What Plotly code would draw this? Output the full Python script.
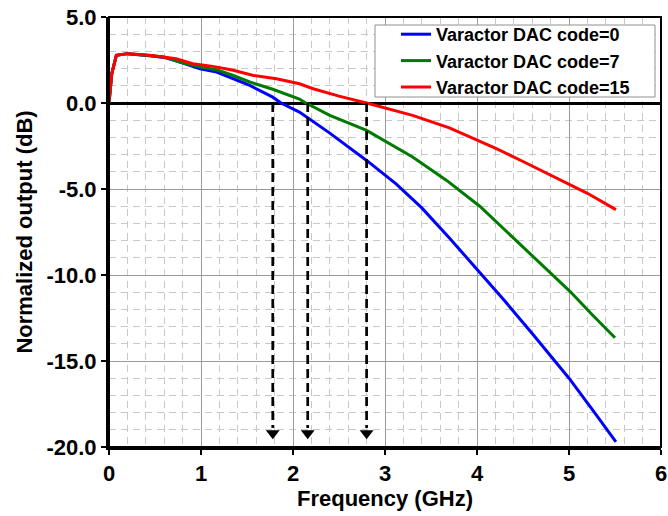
import plotly.graph_objects as go

# ---------------- data ----------------
freq_code0 = [0, 0.03, 0.08, 0.2, 0.44, 0.6, 0.77, 0.99, 1.17, 1.35, 1.53, 1.78, 1.87,
              2.07, 2.4, 2.8, 3.12, 3.4, 3.7, 4.03, 4.3, 4.6, 5.0, 5.25, 5.51]
gain_code0 = [0, 1.7, 2.77, 2.87, 2.75, 2.65, 2.38, 1.99, 1.8, 1.41, 1.02, 0.34, 0.0,
              -0.53, -1.75, -3.34, -4.7, -6.1, -7.85, -9.85, -11.5, -13.4, -16.0, -17.8, -19.7]

freq_code7 = [0, 0.03, 0.08, 0.2, 0.44, 0.6, 0.77, 0.99, 1.17, 1.35, 1.53, 1.78, 2.07,
              2.14, 2.4, 2.8, 3.3, 3.67, 4.03, 4.54, 5.01, 5.25, 5.5]
gain_code7 = [0, 1.7, 2.77, 2.87, 2.76, 2.68, 2.38, 2.09, 1.93, 1.6, 1.22, 0.8, 0.22,
              0.0, -0.72, -1.59, -3.14, -4.5, -6.0, -8.55, -10.95, -12.3, -13.65]

freq_code15 = [0, 0.03, 0.08, 0.21, 0.44, 0.73, 0.91, 1.13, 1.35, 1.57, 1.82, 2.07,
               2.22, 2.5, 2.8, 3.3, 3.7, 4.03, 4.21, 4.5, 4.83, 5.2, 5.51]
gain_code15 = [0.05, 1.7, 2.77, 2.87, 2.77, 2.57, 2.28, 2.13, 1.9, 1.6, 1.41, 1.12,
               0.83, 0.4, 0.0, -0.72, -1.45, -2.2, -2.65, -3.4, -4.25, -5.25, -6.2]

series_names = ["Varactor DAC code=0", "Varactor DAC code=7", "Varactor DAC code=15"]
series_colors = ["#0000FF", "#007A00", "#FF0000"]

crossover_ghz = [1.78, 2.16, 2.80]   # 0 dB crossings marked by dashed arrows

x_ticks = [0, 1, 2, 3, 4, 5, 6]
x_ticklabels = ["0", "1", "2", "3", "4", "5", "6"]
y_ticks = [5, 0, -5, -10, -15, -20]
y_ticklabels = ["5.0", "0.0", "-5.0", "-10.0", "-15.0", "-20.0"]

# ---------------- figure ----------------
FONT = "Liberation Sans, Arial, sans-serif"
fig = go.Figure()

for fx, gy, name, col in zip([freq_code0, freq_code7, freq_code15],
                             [gain_code0, gain_code7, gain_code15],
                             series_names, series_colors):
    fig.add_trace(go.Scatter(x=fx, y=gy, mode="lines", name=name,
                             line=dict(color=col, width=3)))

for xc in crossover_ghz:
    fig.add_trace(go.Scatter(x=[xc, xc], y=[0, -18.9], mode="lines", showlegend=False,
                             line=dict(color="black", width=2.7, dash="9px,5px"),
                             hoverinfo="skip"))
    fig.add_trace(go.Scatter(x=[xc], y=[-19.2], mode="markers", showlegend=False,
                             marker=dict(symbol="triangle-down", size=12, color="black"),
                             hoverinfo="skip"))

axis_common = dict(
    showline=True, linecolor="black", linewidth=3, automargin=False,
    showgrid=True, gridcolor="#9a9a9a", gridwidth=1,
    ticks="outside", ticklen=5, tickwidth=2, tickcolor="black",
    tickfont=dict(family=FONT, size=22, color="black", weight="bold"),
)

fig.update_xaxes(
    range=[0, 6], tickmode="array", tickvals=x_ticks, ticktext=x_ticklabels,
    zeroline=False,
    minor=dict(dtick=0.2, showgrid=True, gridcolor="#c8c8c8", griddash="7px,5px", gridwidth=1),
    title=dict(text="Frequency (GHz)", standoff=5,
               font=dict(family=FONT, size=22, color="black", weight="bold")),
    **axis_common,
)
fig.update_yaxes(
    range=[-20, 5], tickmode="array", tickvals=y_ticks, ticktext=y_ticklabels,
    zeroline=True, zerolinecolor="black", zerolinewidth=3,
    minor=dict(dtick=1, showgrid=True, gridcolor="#c8c8c8", griddash="7px,5px", gridwidth=1),
    title=dict(text="Normalized output (dB)", standoff=8,
               font=dict(family=FONT, size=22, color="black", weight="bold")),
    **axis_common,
)

# top/right frame lines
fig.add_shape(type="rect", xref="paper", yref="paper", x0=0, x1=1, y0=0, y1=1,
              line=dict(color="black", width=2), layer="above")

# legend box (drawn as shape so that padding matches)
L, T, W, H = 109.0, 17.0, 552.0, 430.0
def px2paper_x(p):
    return (p - L) / W
def px2paper_y(p):
    return (T + H - p) / H

fig.add_shape(type="rect", xref="paper", yref="paper",
              x0=px2paper_x(375), x1=px2paper_x(655), y0=px2paper_y(97), y1=px2paper_y(25),
              line=dict(color="#909090", width=1), fillcolor="white", layer="above")

fig.update_layout(
    width=668, height=516,
    margin=dict(l=109, r=7, t=17, b=69, autoexpand=False),
    plot_bgcolor="white", paper_bgcolor="white",
    showlegend=True,
    legend=dict(x=px2paper_x(396), y=px2paper_y(16), xanchor="left", yanchor="top",
                bgcolor="rgba(0,0,0,0)", borderwidth=0, tracegroupgap=0,
                font=dict(family=FONT, size=18, color="black", weight="bold")),
)

fig.write_html("out.html",
               config={"displayModeBar": False},
               post_script="document.body.style.margin='0';"
                           "document.body.style.padding='0';"
                           "document.body.style.overflow='hidden';")
